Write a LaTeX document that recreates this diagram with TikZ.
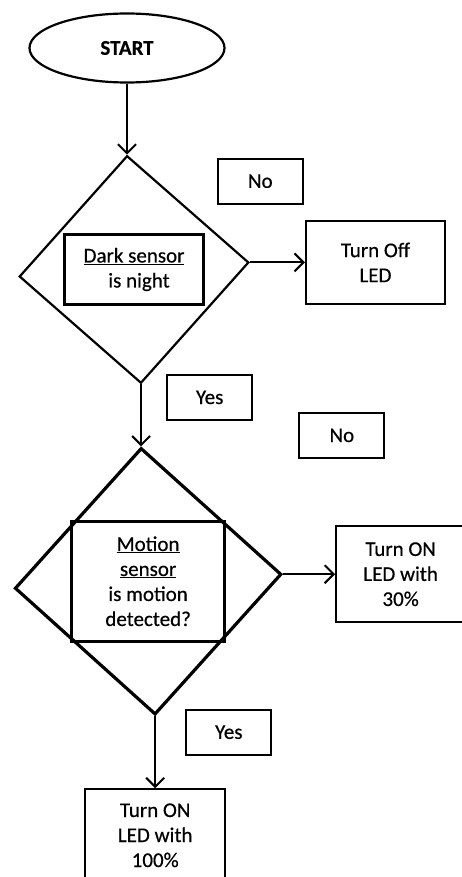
\documentclass[tikz,border=0pt]{standalone}
\usepackage{fontspec}
\setmainfont{Carlito}[FakeBold=0.4]
\newfontfamily\flowfont{Carlito}[FakeBold=0.5]
\usetikzlibrary{positioning,arrows.meta,shapes.geometric}

\begin{document}
\begin{tikzpicture}[
  x=1pt,y=1pt,
  term/.style={draw,ellipse,line width=2.2pt,minimum width=195pt,minimum height=69pt,font=\fontsize{21}{25}\selectfont\bfseries},
  dec/.style={draw,diamond,line width=2.2pt,inner sep=0pt},
  qbox/.style={draw,line width=2.2pt,align=center,inner sep=0pt,font=\flowfont\fontsize{21}{25}\selectfont},
  st/.style={draw,line width=2.2pt,align=center,inner sep=0pt,font=\flowfont\fontsize{21}{25}\selectfont},
  lbl/.style={draw,line width=2.2pt,minimum width=85pt,minimum height=45pt,font=\flowfont\fontsize{21}{25}\selectfont},
  arr/.style={-{Straight Barb[length=9pt,width=18pt,line width=2pt]},line width=2pt}
]
\clip (0,0) rectangle (462,-877);
\node[term] (start) at (127,-48) {START};
\node[dec,minimum width=230pt,minimum height=228pt,rotate=3.5,below=71pt of start] (dark) {};
\node[qbox,minimum width=139pt,minimum height=70pt] (darkq) at (dark.center) {\underline{Dark sensor}\\\hspace{10pt}is night};
\node[st,minimum width=139pt,minimum height=83pt,right=55pt of dark] (off) {Turn Off\\LED};
\node[lbl,above left=15pt and 1pt of off] (no1) {No};
\node[lbl,right=25pt of dark.south,yshift=-13pt] (yes1) {Yes};
\node[lbl,right=45pt of yes1,yshift=-38pt] (no2) {No};

\node[dec,line width=3.2pt,minimum width=267pt,minimum height=267pt,rotate=3,below=62pt of dark] (motion) {};
\node[qbox,line width=2.6pt,minimum width=153pt,minimum height=120pt] (motionq) at (motion.center) {\underline{Motion}\\\underline{sensor}\\is motion\\detected?};
\node[st,minimum width=129pt,minimum height=96pt,right=52pt of motion] (on30) {Turn ON\\LED with\\30\%};
\node[lbl,right=30pt of motion.south,yshift=-16pt] (yes2) {Yes};
\node[st,minimum width=140pt,minimum height=92pt,below=72pt of motion] (on100) {Turn ON\\LED with\\100\%};

\draw[arr] (start.south) -- (dark.north);
\draw[arr] (dark.east) -- (off.west);
\draw[arr] (dark.south) -- (motion.north);
\draw[arr] (motion.east) -- (on30.west);
\draw[arr] (motion.south) -- (on100.north);
\end{tikzpicture}
\end{document}
